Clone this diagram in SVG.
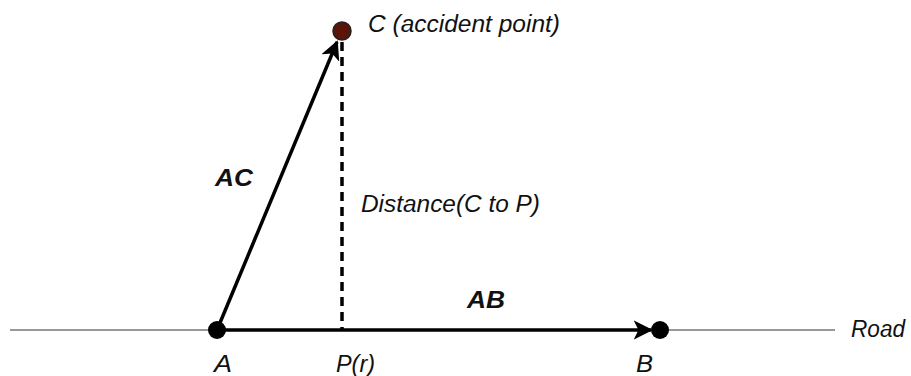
<svg xmlns="http://www.w3.org/2000/svg" width="911" height="376" viewBox="0 0 911 376">
<style>
text{font-family:"Liberation Sans",Arial,sans-serif;font-style:italic;font-size:23px;fill:#111}
.b{font-weight:bold;font-size:23px}
.vec{stroke:#000;stroke-width:3.5;fill:none}
</style>
<defs>
<marker id="ah" viewBox="0 0 10 10" refX="9" refY="5" markerWidth="5.5" markerHeight="5.5" orient="auto" markerUnits="strokeWidth">
<path d="M0,0 L10,5 L0,10 L2.5,5 z" fill="#000"/>
</marker>
</defs>
<rect width="911" height="376" fill="#fff"/>
<g id="connectors">
<line id="road" x1="10" y1="330" x2="835" y2="330" stroke="#333" stroke-width="1"/>
<line id="dist" x1="342" y1="42" x2="342" y2="330" stroke="#000" stroke-width="3.5" stroke-dasharray="9,6"/>
<line id="ac" class="vec" x1="217" y1="330" x2="337" y2="42" marker-end="url(#ah)"/>
<line id="ab" class="vec" x1="217" y1="330" x2="651" y2="330" marker-end="url(#ah)"/>
</g>
<g id="nodeA"><circle cx="217" cy="330" r="9" fill="#000"/><text x="214" y="372" textLength="18" lengthAdjust="spacingAndGlyphs">A</text></g>
<g id="nodeB"><circle cx="660" cy="330" r="9" fill="#000"/><text x="636" y="372" textLength="17" lengthAdjust="spacingAndGlyphs">B</text></g>
<g id="nodeC"><circle cx="342" cy="31" r="9" fill="#5a1508" stroke="#222" stroke-width="1.5"/><text x="368" y="32" textLength="192" lengthAdjust="spacingAndGlyphs">C (accident point)</text></g>
<g id="nodeP"><text x="336" y="372" textLength="39" lengthAdjust="spacingAndGlyphs">P(r)</text></g>
<g id="labels">
<text class="b" x="215" y="186" textLength="38" lengthAdjust="spacingAndGlyphs">AC</text>
<text x="361" y="212" textLength="179" lengthAdjust="spacingAndGlyphs">Distance(C to P)</text>
<text class="b" x="467" y="308" textLength="38" lengthAdjust="spacingAndGlyphs">AB</text>
<text x="851" y="337" textLength="54" lengthAdjust="spacingAndGlyphs">Road</text>
</g>
</svg>
